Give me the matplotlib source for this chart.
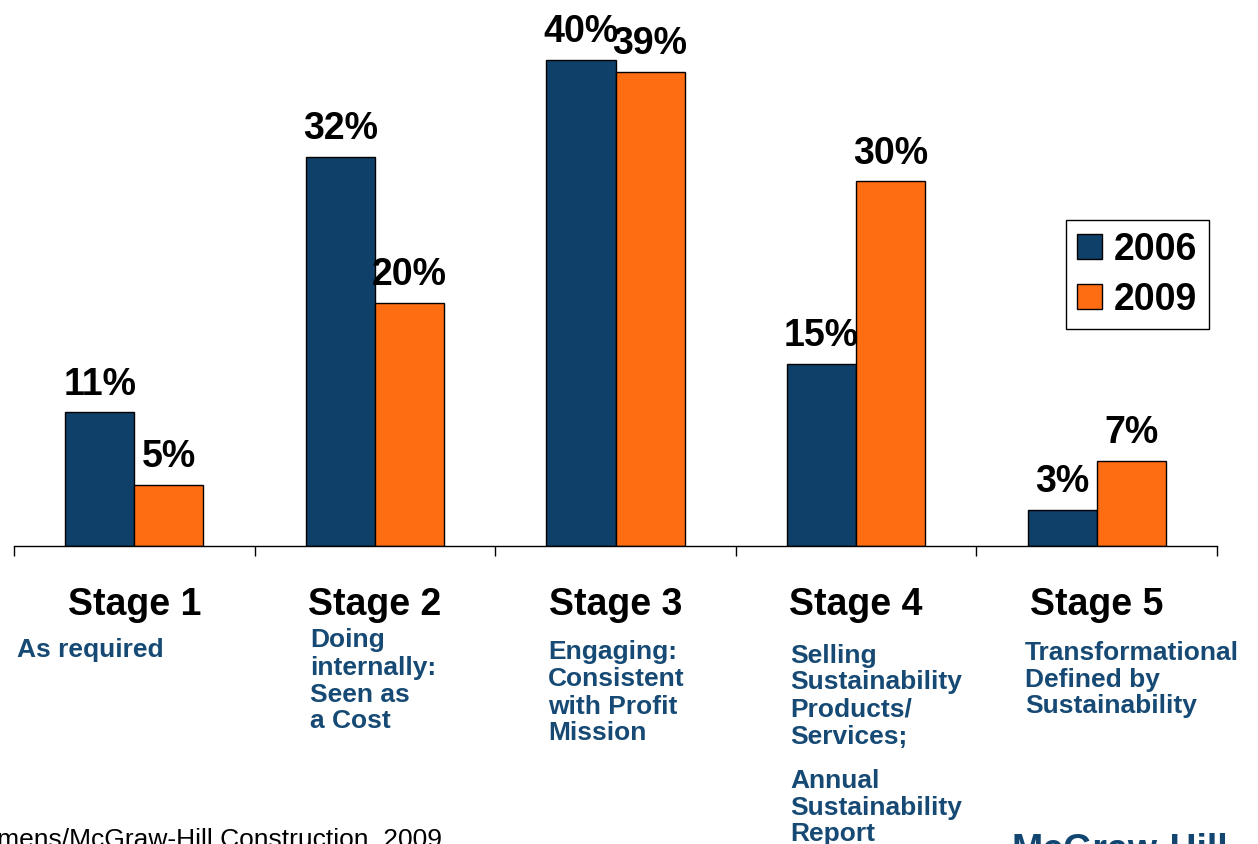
import matplotlib
matplotlib.use("Agg")
import matplotlib.pyplot as plt
from matplotlib.patches import Patch

plt.rcParams['font.family'] = ['Liberation Sans', 'DejaVu Sans']

# ---- data -----------------------------------------------------------------
stages = ["Stage 1", "Stage 2", "Stage 3", "Stage 4", "Stage 5"]
years = ["2006", "2009"]
values_2006 = [11, 32, 40, 15, 3]
values_2009 = [5, 20, 39, 30, 7]
descriptions = [
    ["As required"],
    ["Doing", "internally:", "Seen as", "a Cost"],
    ["Engaging:", "Consistent", "with Profit", "Mission"],
    ["Selling", "Sustainability", "Products/", "Services;", None,
     "Annual", "Sustainability", "Report"],
    ["Transformational", "Defined by", "Sustainability"],
]
source_text = "Source: Siemens/McGraw-Hill Construction, 2009"
logo_text = "McGraw-Hill"

# ---- styling ----------------------------------------------------------------
BLUE = "#0f4069"
ORANGE = "#ff6d12"
TEXT_BLUE = "#164a74"
W, H = 1258, 845

fig = plt.figure(figsize=(W / 100, H / 100), dpi=100)
ax = fig.add_axes([14 / W, 1 - 547 / H, (1217 - 14) / W, 547 / H])

x = list(range(len(stages)))
bw = 0.287
bars_a = ax.bar([i - bw / 2 for i in x], values_2006, width=bw,
                color=BLUE, edgecolor="black", linewidth=1, label=years[0])
bars_b = ax.bar([i + bw / 2 for i in x], values_2009, width=bw,
                color=ORANGE, edgecolor="black", linewidth=1, label=years[1])

ax.set_xlim(-0.5, len(stages) - 0.5)
ax.set_ylim(0, 45)

for s in ("top", "left", "right"):
    ax.spines[s].set_visible(False)
ax.spines["bottom"].set_linewidth(1)
ax.set_yticks([])
ax.set_xticks([])
ax.set_xticks([i - 0.5 for i in range(len(stages) + 1)], minor=True)
ax.tick_params(axis="x", which="minor", direction="out", length=7.5,
               width=1, labelbottom=False)

# value labels above bars
for bars, vals in ((bars_a, values_2006), (bars_b, values_2009)):
    for b, v in zip(bars, vals):
        ax.annotate(f"{v}%", (b.get_x() + b.get_width() / 2, v),
                    xytext=(0, 13.5), textcoords="offset points",
                    ha="center", va="baseline", fontsize=27,
                    fontweight="bold", color="black", annotation_clip=False)

# stage titles and descriptions below the axis
xt = ax.get_xaxis_transform()
px = 1 / 547  # one pixel in axes-height units


def ypix(p):
    return (547 - p) * px


for i, name in enumerate(stages):
    ax.text(i, ypix(605), name, transform=xt, ha="center", va="center",
            fontsize=27, fontweight="bold", color="black")

desc_left = [17, 310, 548, 790, 1025]
desc_first = [647, 638, 650, 653, 650]
for lines, left, first in zip(descriptions, desc_left, desc_first):
    xd = (left - 14) / 240.6 - 0.5
    y = first
    for line in lines:
        if line is None:
            y += 17
            continue
        ax.text(xd, ypix(y + 9.5), line, transform=xt, ha="left",
                va="baseline", fontsize=19, fontweight="bold",
                color=TEXT_BLUE, clip_on=False)
        y += 27

# legend
handles = [Patch(facecolor=BLUE, edgecolor="black", label=years[0]),
           Patch(facecolor=ORANGE, edgecolor="black", label=years[1])]
leg = fig.legend(handles=handles, loc="upper left",
                 bbox_to_anchor=(1066 / W, 1 - 221 / H),
                 prop={"size": 27, "weight": "bold"},
                 handlelength=0.65, handleheight=0.65, handletextpad=0.33,
                 labelspacing=0.38, borderpad=0.3, borderaxespad=0,
                 fancybox=False, edgecolor="black", framealpha=1)
leg.get_frame().set_linewidth(1)

# footer: source line and publisher mark
fig.text(442 / W, -2 / H, source_text, ha="right", va="baseline",
         fontsize=19, color="black")
fig.text(1012 / W, -16 / H, logo_text, ha="left", va="baseline",
         fontsize=27, fontweight="bold", color="#124570")

fig.savefig("out.png", dpi=100)
